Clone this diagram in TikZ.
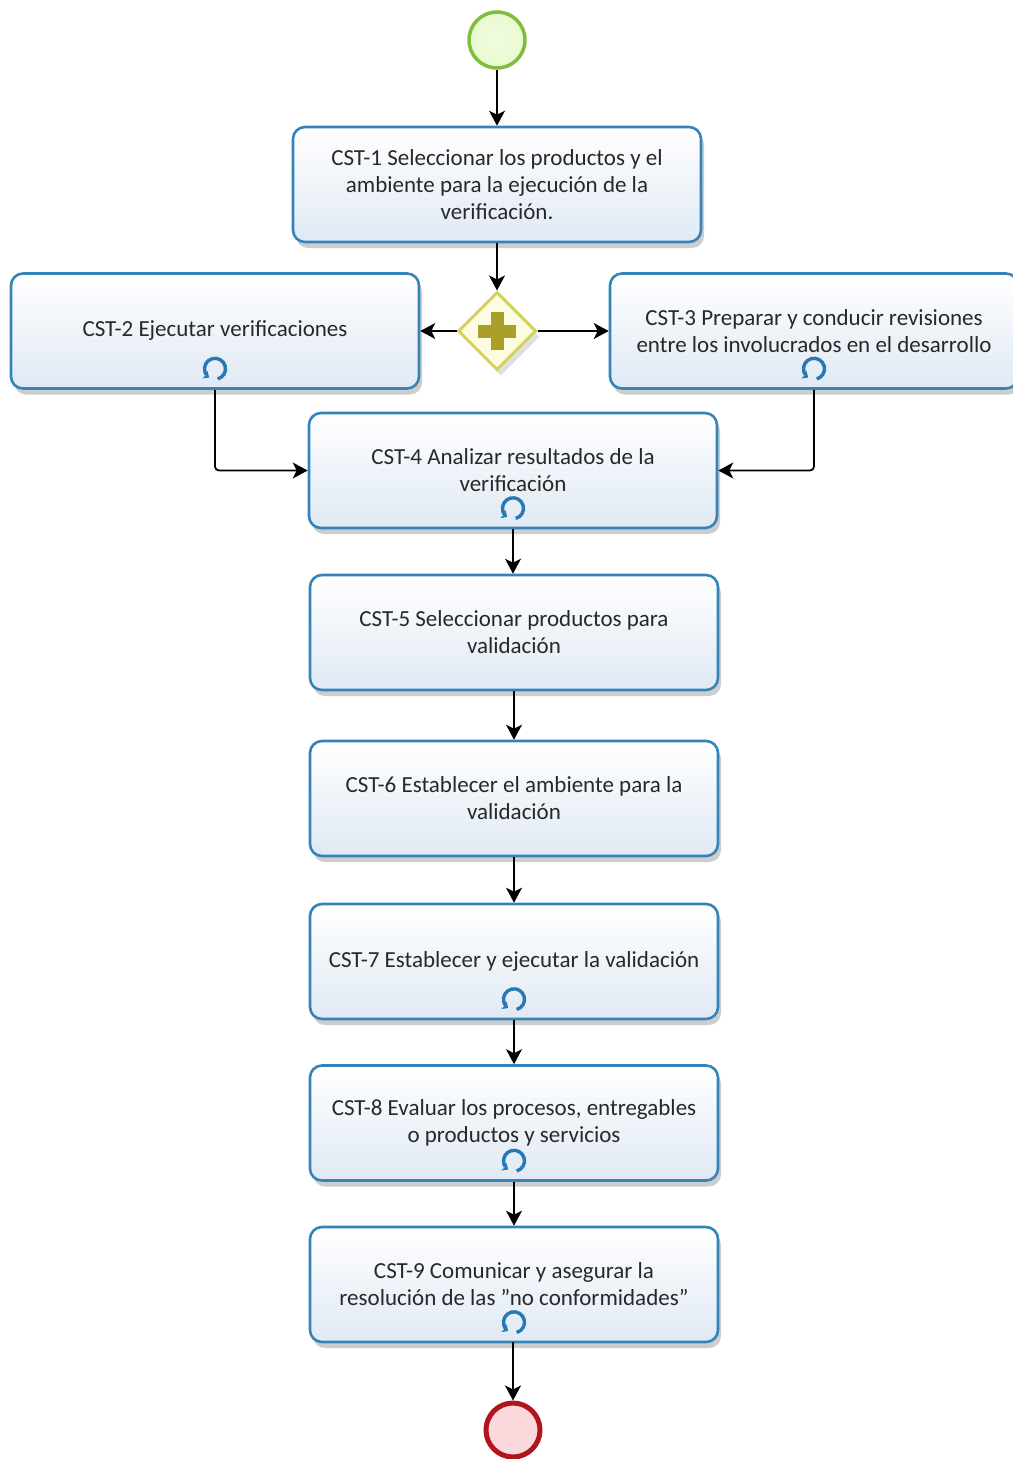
\documentclass[tikz,border=0pt]{standalone}
\usepackage{fontspec}
\setmainfont{Carlito}
\usetikzlibrary{shapes.geometric,arrows.meta,shadows,calc}

\definecolor{taskblue}{RGB}{52,132,186}
\definecolor{taskfill}{RGB}{224,233,244}
\definecolor{txt}{RGB}{40,40,40}
\definecolor{startgreen}{RGB}{125,190,60}
\definecolor{startfill}{RGB}{232,250,205}
\definecolor{endred}{RGB}{178,20,30}
\definecolor{endfill}{RGB}{250,216,220}
\definecolor{gatestroke}{RGB}{212,210,90}
\definecolor{gatefill}{RGB}{252,252,225}
\definecolor{plusolive}{RGB}{170,160,40}
\definecolor{loopblue}{RGB}{40,120,180}

\begin{document}
\begin{tikzpicture}[x=1pt,y=-1pt,
  task/.style={draw=taskblue, line width=2.6pt, rounded corners=12pt,
    minimum width=408pt, minimum height=115pt, inner sep=0pt,
    top color=white, bottom color=taskfill, align=center, text=txt,
    font=\fontsize{23}{27}\selectfont,
    drop shadow={shadow xshift=3pt, shadow yshift=-6pt, opacity=0.28, fill=black!70}},
  flow/.style={draw=black, line width=1.8pt,
    -{Stealth[length=15pt,width=16pt,inset=4pt]}},
  loopmark/.pic={
    \begin{scope}[yscale=-1]
      \draw[loopblue, line width=3.4pt,
        -{Stealth[length=5pt,width=9pt,inset=1pt]}]
        (-75:10.5) arc[start angle=-75, end angle=236, radius=10.5];
    \end{scope}
  }
]
\fill[white] (0,0) rectangle (1012,1459);
\useasboundingbox (0,0) rectangle (1012,1459);

% events
\node[circle, draw=startgreen, line width=3.5pt, minimum size=56pt, inner sep=0pt,
  inner color=startfill!60, outer color=startfill] (start) at (497,40) {};
\node[circle, draw=endred, line width=5pt, minimum size=54pt, inner sep=0pt,
  fill=endfill] (stop) at (513,1430) {};

% tasks
\node[task] (t1) at (497,184.5) {CST-1 Seleccionar los productos y el\\ambiente para la ejecución de la\\verificación.};
\node[task] (t2) at (215,331) {CST-2 Ejecutar verificaciones};
\node[task] (t3) at (814,331) {CST-3 Preparar y conducir revisiones\\entre los involucrados en el desarrollo};
\node[task] (t4) at (513,470.5) {CST-4 Analizar resultados de la\\verificación};
\node[task] (t5) at (514,632.5) {CST-5 Seleccionar productos para\\validación};
\node[task] (t6) at (514,798.5) {CST-6 Establecer el ambiente para la\\validación};
\node[task] (t7) at (514,961.5) {CST-7 Establecer y ejecutar la validación};
\node[task] (t8) at (514,1123) {CST-8 Evaluar los procesos, entregables\\o productos y servicios};
\node[task] (t9) at (514,1284.5) {CST-9 Comunicar y asegurar la\\resolución de las ”no conformidades”};

% loop markers
\foreach \t in {t2,t3,t4,t7,t8,t9}
  \pic at ($(\t.south)+(0,-21)$) {loopmark};

% parallel gateway
\node[diamond, aspect=1, draw=gatestroke, line width=3pt, fill=gatefill,
  minimum width=78pt, minimum height=78pt, inner sep=0pt,
  drop shadow={shadow xshift=4pt, shadow yshift=-6pt, opacity=0.2, fill=black!60}]
  (gw) at (497,331) {};
\fill[plusolive] ($(gw)+(-19,-6.5)$) rectangle ($(gw)+(19,6.5)$);
\fill[plusolive] ($(gw)+(-6.5,-19)$) rectangle ($(gw)+(6.5,19)$);

% sequence flows
\draw[flow] (start) -- (t1);
\draw[flow] (t1.south) -- (gw.north);
\draw[flow] (gw.west) -- (t2.east);
\draw[flow] (gw.east) -- (t3.west);
\draw[flow, rounded corners=4pt] (t2.south) |- (t4.west);
\draw[flow, rounded corners=4pt] (t3.south) |- (t4.east);
\draw[flow] (t4.south) -- (t4.south |- t5.north);
\draw[flow] (t5) -- (t6);
\draw[flow] (t6) -- (t7);
\draw[flow] (t7) -- (t8);
\draw[flow] (t8) -- (t9);
\draw[flow] (t9.south) -- (t9.south -| stop.north) -- (stop);
\end{tikzpicture}
\end{document}
